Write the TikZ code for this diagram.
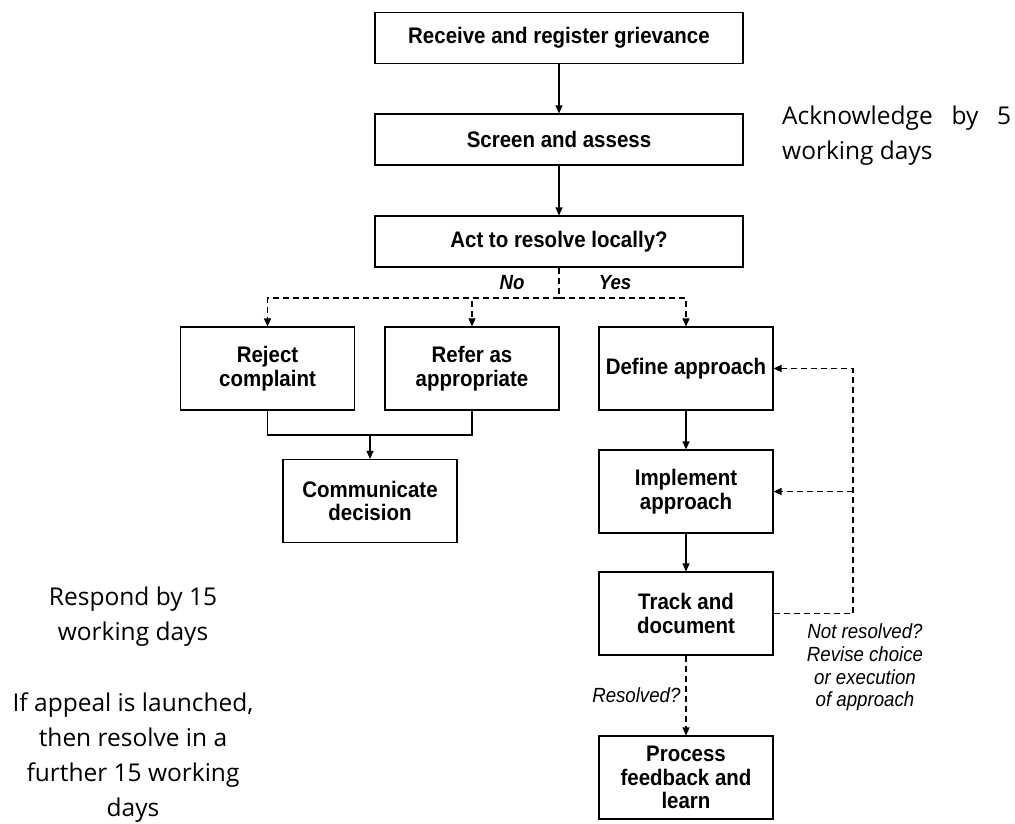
\documentclass[tikz,border=0pt]{standalone}
\usepackage{fontspec}
\setmainfont{Open Sans}
\newfontfamily\boxfont[FakeStretch=0.91]{Liberation Sans}
\usetikzlibrary{arrows.meta,positioning,calc}

\begin{document}
\begin{tikzpicture}[x=1pt,y=-1pt,
    box/.style={draw, line width=1.1pt, align=center, inner sep=2pt,
        font=\boxfont\bfseries\fontsize{22.5}{23.5}\selectfont},
    wide/.style={box, minimum width=368, minimum height=51},
    tall/.style={box, minimum width=174, minimum height=83},
    link/.style={line width=1.1pt},
    arr/.style={link, -{Triangle[length=8pt,width=7pt]}},
    dashline/.style={link, dash pattern=on 6pt off 4pt},
    dasharr/.style={dashline, -{Triangle[length=8pt,width=7pt]}},
    choice/.style={inner sep=0pt, font=\boxfont\itshape\fontsize{20.5}{22.7}\selectfont},
    yesno/.style={inner sep=0pt, font=\boxfont\bfseries\itshape\fontsize{20.5}{22}\selectfont},
    note/.style={inner sep=0pt, font=\fontsize{24.5}{35}\selectfont}]
    \useasboundingbox (0,0) rectangle (1015,824);

    % Main column
    \node[wide] (receive) at (559,38) {Receive and register grievance};
    \node[wide] (screen) at (559,139.5) {Screen and assess};
    \node[wide] (act) at (559,241.5) {Act to resolve locally?};

    \draw[arr] (receive) -- (screen);
    \draw[arr] (screen) -- (act);

    % Branches
    \node[tall] (reject) at (267.5,368.5) {Reject\\complaint};
    \node[tall] (refer) at (472,368.5) {Refer as\\appropriate};
    \node[tall] (define) at (686,368.5) {Define approach};
    \node[tall] (comm) at (370,501) {Communicate\\decision};
    \node[tall] (implement) at (686,491.5) {Implement\\approach};
    \node[tall] (track) at (686,613.5) {Track and\\document};
    \node[tall] (process) at (686,777.5) {Process\\feedback and\\learn};

    \coordinate (split) at (559,298);
    \draw[dashline] (act.south) -- (split);
    \draw[dasharr] (split) -| (reject.north);
    \draw[dasharr] (split) -| (refer.north);
    \draw[dasharr] (split) -| (define.north);
    \node[yesno] (no) at (512,283) {No};
    \node[yesno] (yes) at (615,283) {Yes};

    % Rejected or referred
    \coordinate (join) at (370,435);
    \draw[link] (reject.south) |- (join) -| (refer.south);
    \draw[arr] (join) -- (comm.north);

    % Local resolution
    \draw[arr] (define) -- (implement);
    \draw[arr] (implement) -- (track);
    \draw[dasharr] (track) -- (process)
        node[choice, midway, left=5pt] (resolved) {Resolved?};

    \coordinate (fb) at (853,613.5);
    \draw[dasharr] (track.east) -- (fb) |- (define.east);
    \draw[dasharr] (fb |- implement.east) -- (implement.east);
    \node[choice, align=center] (revise) at (865,667.5)
        {Not resolved?\\Revise choice\\or execution\\of approach};

    % Time limits
    \node[note, anchor=north west, text width=229, align=justify] (ack) at (782,106)
        {\hyphenpenalty=10000 Acknowledge by 5 working days};
    \node[note, align=center] (respond) at (133,617) {Respond by 15\\working days};
    \node[note, align=center] (appeal) at (133,758)
        {If appeal is launched,\\then resolve in a\\further 15 working\\days};
\end{tikzpicture}
\end{document}
